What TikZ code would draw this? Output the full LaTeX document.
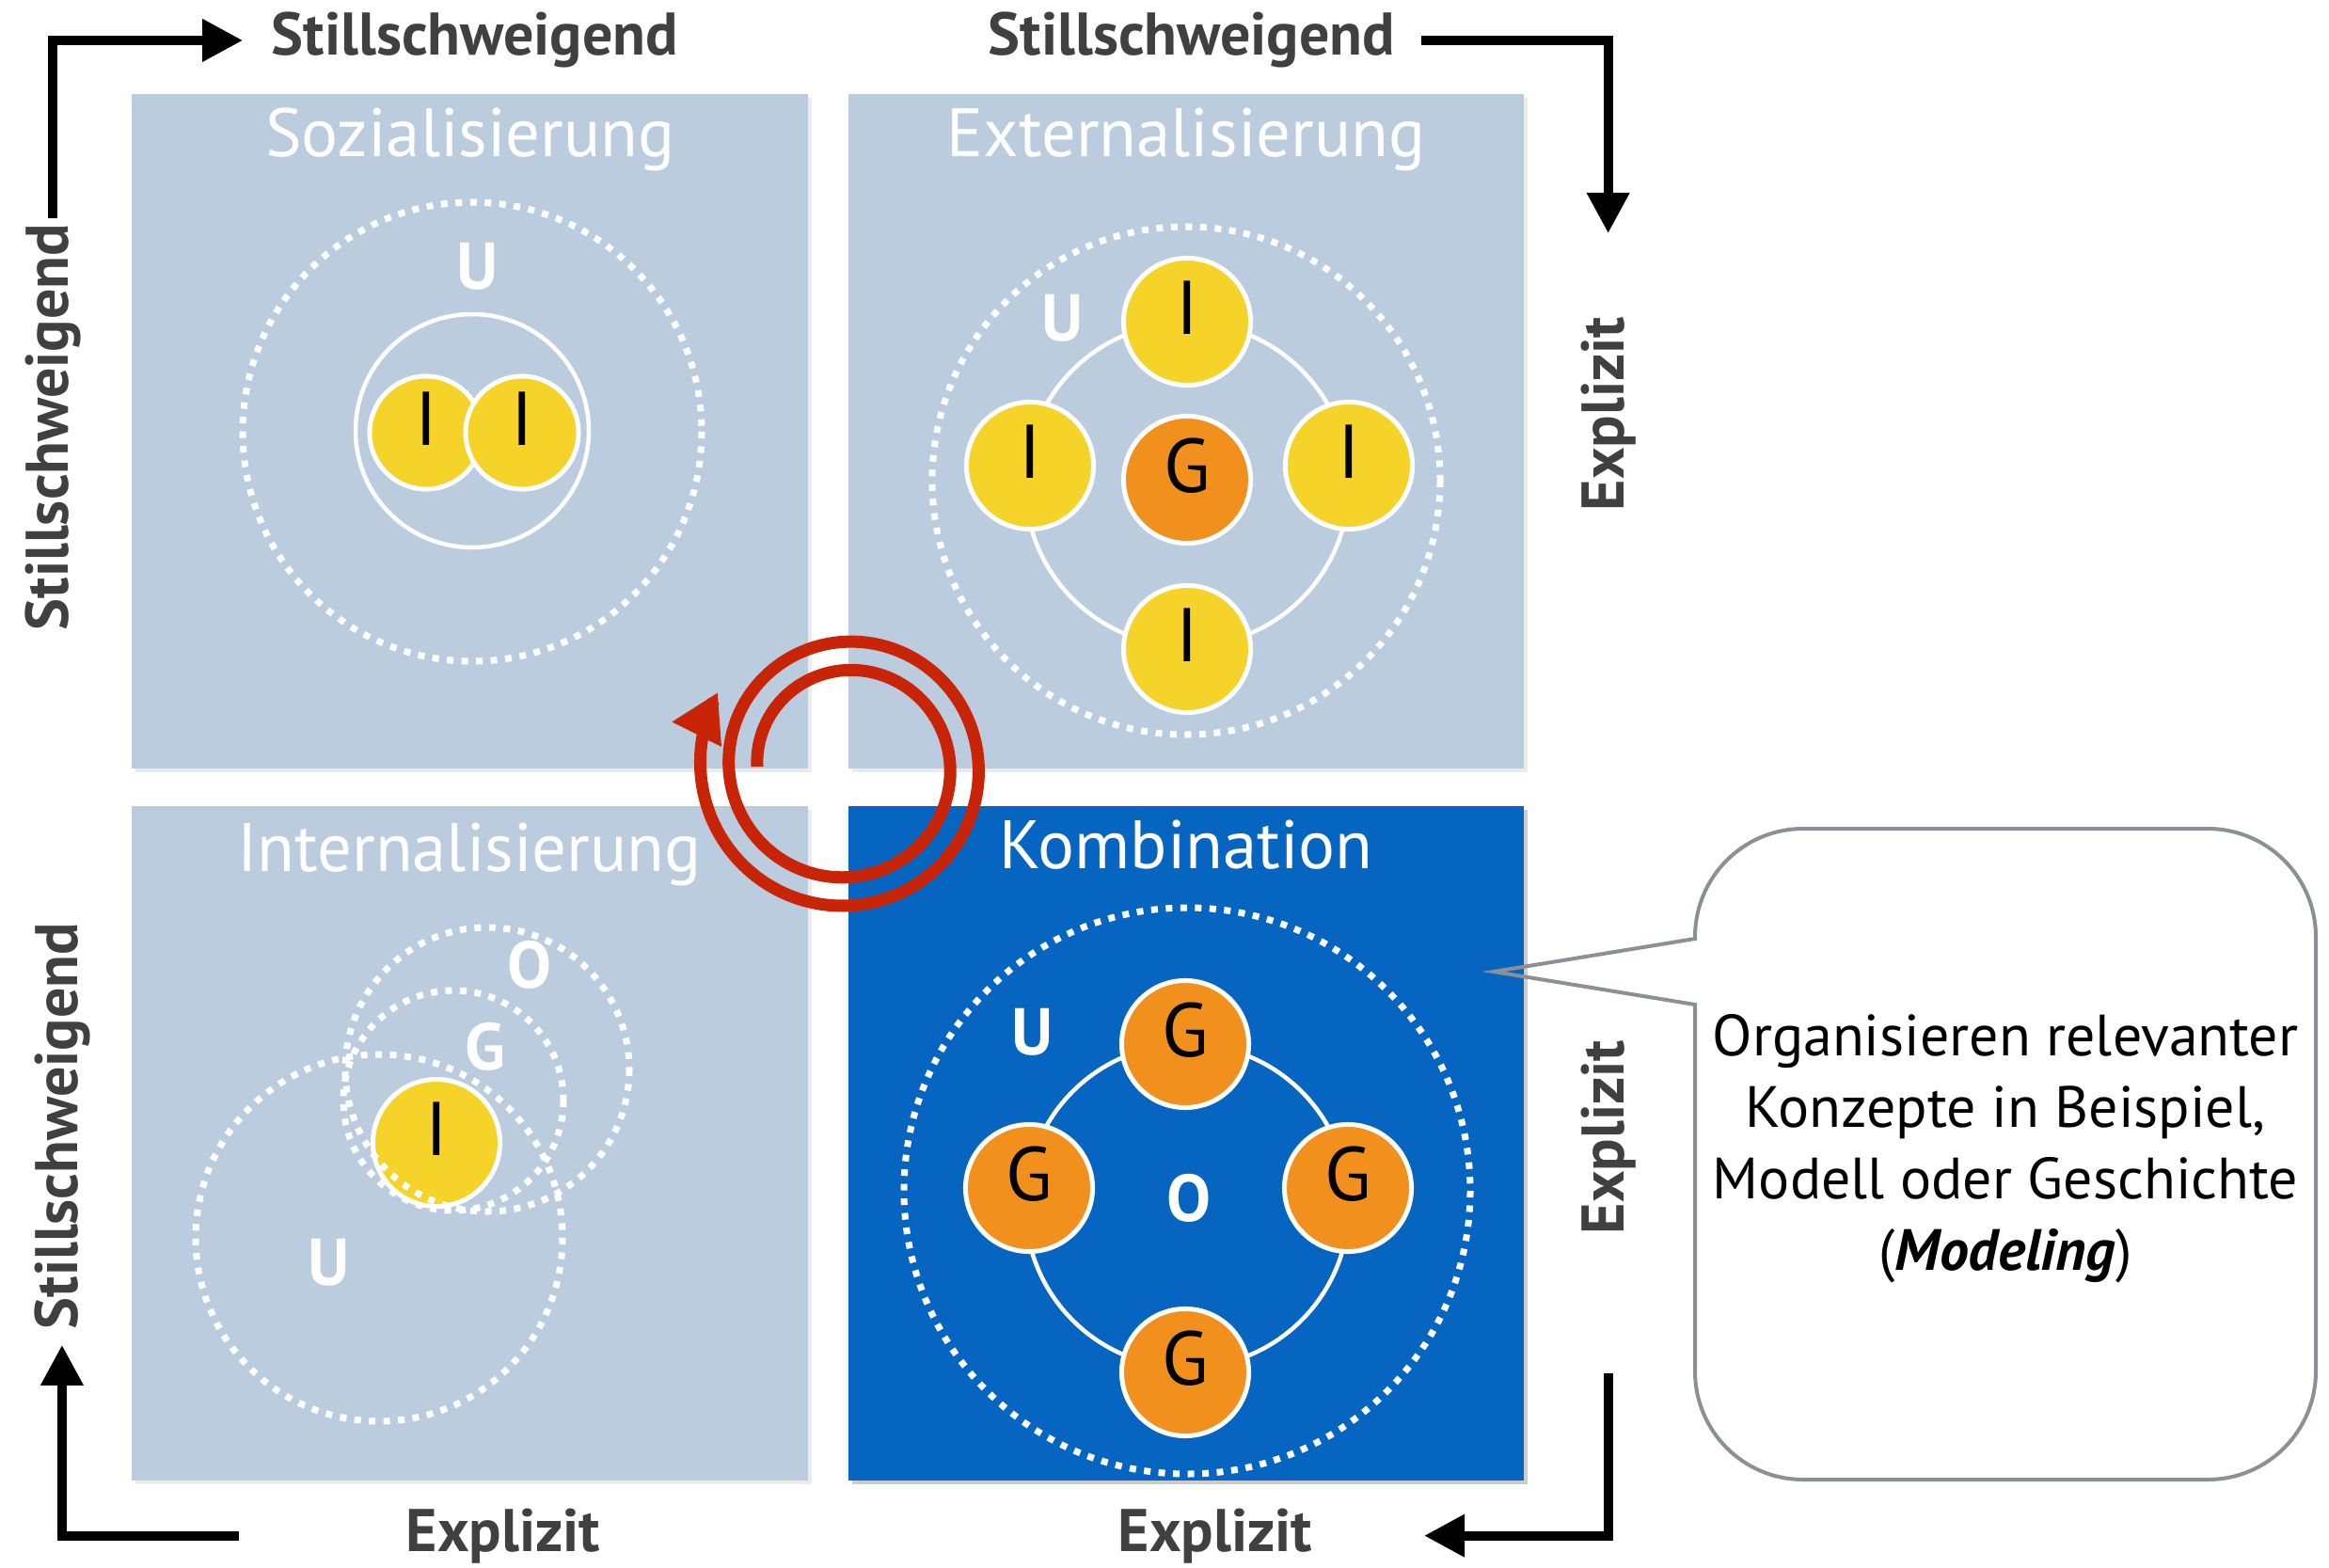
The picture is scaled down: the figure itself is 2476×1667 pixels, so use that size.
\documentclass[tikz,border=0pt]{standalone}
\usepackage{fontspec}
\setmainfont{PT Sans}
\usetikzlibrary{arrows.meta}
\definecolor{boxlight}{RGB}{186,204,221}
\definecolor{boxdark}{RGB}{5,101,192}
\definecolor{yel}{RGB}{245,211,40}
\definecolor{ora}{RGB}{241,144,28}
\definecolor{spiralred}{RGB}{199,36,8}
\definecolor{axgray}{RGB}{64,64,64}
\definecolor{bubblegray}{RGB}{140,143,147}
\begin{document}
\begin{tikzpicture}[x=0.01cm,y=-0.01cm,
    axlabel/.style={inner sep=0pt,text=axgray,font=\fontsize{18.2}{21}\selectfont\bfseries},
    title/.style={inner sep=0pt,text=white,font=\fontsize{20.7}{25}\selectfont},
    setlabel/.style={inner sep=0pt,text=white,font=\fontsize{20}{24}\selectfont\bfseries},
    member/.style={circle,draw=white,line width=0.05cm,minimum size=1.35cm,inner sep=0pt,
                   text depth=0.3cm,font=\fontsize{23}{27}\selectfont},
    ind/.style={member,fill=yel},
    grp/.style={member,fill=ora},
    axarrow/.style={line width=0.1cm,-{Triangle[length=0.43cm,width=0.43cm]}},
    setring/.style={draw=white,line width=0.045cm},
    setdots/.style={draw=white,line width=0.07cm,dash pattern=on 0.07cm off 0.085cm}]
        \useasboundingbox (0,0) rectangle (2476,1667);

        \fill[black,opacity=0.08] (144,104) rectangle (863,821);
        \fill[black,opacity=0.08] (906,104) rectangle (1624,821);
        \fill[black,opacity=0.08] (144,861) rectangle (863,1578);
        \fill[black,opacity=0.2] (906,861) rectangle (1624,1578);
        \fill[boxlight] (140,100) rectangle (859,817);
        \fill[boxlight] (902,100) rectangle (1620,817);
        \fill[boxlight] (140,857) rectangle (859,1574);
        \fill[boxdark] (902,857) rectangle (1620,1574);

        \node[axlabel,anchor=base] (stT) at (505,59) {Stillschweigend};
        \node[axlabel,anchor=base] (stTR) at (1267,59) {Stillschweigend};
        \node[axlabel,anchor=base,rotate=90] (stL) at (72,454) {Stillschweigend};
        \node[axlabel,anchor=base,rotate=90] (stBL) at (82,1197) {Stillschweigend};
        \node[axlabel,anchor=base,rotate=90] (exR) at (1726,440) {Explizit};
        \node[axlabel,anchor=base,rotate=90] (exBR) at (1726,1209) {Explizit};
        \node[axlabel,anchor=base] (exB) at (535,1649) {Explizit};
        \node[axlabel,anchor=base] (exBR2) at (1292,1649) {Explizit};

        \draw[axarrow,shorten <=0.05cm,shorten >=0.3cm] (stL.east) |- (stT.west);
        \draw[axarrow,shorten <=0.27cm,shorten >=0.88cm] (stTR.east) -| (exR.east);
        \draw[axarrow,shorten <=1.47cm,shorten >=1.18cm] (exBR.west) |- (exBR2.east);
        \draw[axarrow,shorten <=1.77cm,shorten >=0.16cm] (exB.west) -| (stBL.west);

        \node[title,anchor=base] (soz) at (500,167) {Sozialisierung};
        \node[title,anchor=base] (ext) at (1261,167) {Externalisierung};
        \node[title,anchor=base] (int) at (499,926) {Internalisierung};
        \node[title,anchor=base] (kom) at (1261,923) {Kombination};

        \draw[setdots] (502,459) circle (244);
        \draw[setring] (502,458) circle (124);
        \node[setlabel] (uS) at (508,283) {U};
        \node[ind,minimum size=1.2cm] (iS1) at (453,460) {I};
        \node[ind,minimum size=1.2cm] (iS2) at (555,460) {I};

        \draw[setdots] (1261,511) circle (270);
        \draw[setring] (1262,515) circle (172);
        \node[setlabel] (uE) at (1130,338) {U};
        \node[ind] (iE1) at (1262,342) {I};
        \node[ind] (iE2) at (1095,495) {I};
        \node[ind] (iE3) at (1434,495) {I};
        \node[ind] (iE4) at (1262,690) {I};
        \node[grp] (gE) at (1262,510) {G};

        \node[ind] (iI) at (464,1215) {I};
        \draw[setdots] (403,1316) circle (195);
        \draw[setdots] (518,1137) circle (151);
        \draw[setdots] (482,1170) circle (117);
        \node[setlabel] (oI) at (563,1026) {O};
        \node[setlabel] (gI) at (516,1113) {G};
        \node[setlabel] (uI) at (350,1342) {U};

        \draw[setdots] (1262,1266) circle (301);
        \draw[setring] (1262,1282) circle (172);
        \node[setlabel] (uK) at (1098,1097) {U};
        \node[setlabel] (oK) at (1264,1274) {O};
        \node[grp] (gK1) at (1260,1110) {G};
        \node[grp] (gK2) at (1094,1263) {G};
        \node[grp] (gK3) at (1433,1263) {G};
        \node[grp] (gK4) at (1260,1459) {G};

        \draw[spiralred,line width=0.13cm,-{Triangle[length=0.5cm,width=0.55cm]}]
              plot[domain=180:930,samples=150,smooth]
              ({900+(95+0.084*(\x-180))*cos(\x)},{815+(95+0.084*(\x-180))*sin(\x)});

        \draw[bubblegray,line width=0.04cm] (1802,998) -- (1802,996)
              arc[start angle=180,end angle=270,radius=115] -- (2347,881)
              arc[start angle=270,end angle=360,radius=115] -- (2462,1458)
              arc[start angle=0,end angle=90,radius=115] -- (1917,1573)
              arc[start angle=90,end angle=180,radius=115] -- (1802,1068) -- (1588,1033) -- cycle;
        \node[align=center,inner sep=0pt,font=\fontsize{17.6}{21.6}\selectfont] (note) at (2132,1221)
              {Organisieren relevanter\\Konzepte in Beispiel,\\Modell oder Geschichte\\(\textbf{\textit{Modeling}})};
      \end{tikzpicture}
\end{document}
